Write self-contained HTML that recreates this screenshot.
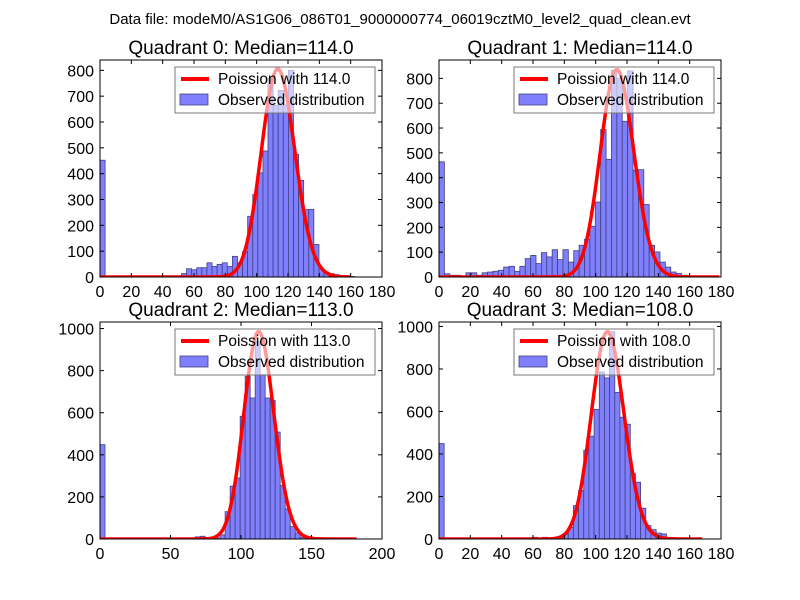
<!DOCTYPE html>
<html><head><meta charset="utf-8"><style>
body{margin:0;background:#fff;}
svg{display:block;font-family:"Liberation Sans",sans-serif;}
</style></head><body>
<svg id="fig" width="800" height="600" viewBox="0 0 800 600">
<rect width="800" height="600" fill="#fff"/>
<text x="400" y="24" font-size="15" text-anchor="middle">Data file: modeM0/AS1G06_086T01_9000000774_06019cztM0_level2_quad_clean.evt</text>
</svg>
<script>
// ---- data ----
const medians = [114.0, 114.0, 113.0, 108.0];
const binWidths = [3.25, 3.44, 3.55, 3.3];
const counts0 = [452,0,0,0,0,0,0,0,0,0,0,0,0,0,0,0,13,32,28,36,36,55,41,49,55,41,80,55,99,235,319,403,488,768,665,722,665,800,475,374,261,262,126,30,19,13,9,5,3,2];
const counts1 = [464,13,7,7,3,17,17,7,17,20,23,27,40,43,23,43,74,87,54,98,81,110,70,110,60,106,128,152,204,302,594,474,833,800,627,830,430,432,292,128,101,60,40,20,14,7,3,2,1,0];
const counts2 = [448,0,0,0,0,0,0,0,0,0,0,0,0,0,0,0,0,0,0,10,13,3,3,5,20,130,251,290,583,773,670,937,781,670,659,508,254,143,59,29,8,5,2,0,0,0,0,0,0,0];
const counts3 = [449,0,0,0,0,0,0,0,0,0,0,0,0,0,0,0,5,0,8,0,8,0,5,10,24,55,157,228,417,484,610,786,758,975,690,573,540,307,267,145,63,44,28,24,8,3,1,0,0,0];
const curvePeaks = [805, 835, 985, 975];
const curveMaxX = [160, 179, 182, 168];
const xTicks0 = [0,20,40,60,80,100,120,140,160,180];
const xTicks2 = [0,50,100,150,200];
const yTicks01 = [0,100,200,300,400,500,600,700,800];
const yTicks23 = [0,200,400,600,800,1000];
const xMaxes = [180, 180, 200, 180];
const yMaxes = [840, 874, 1031, 1021];

const allCounts = [counts0, counts1, counts2, counts3];
const boxes = [[100,60,382,277],[439,60,721,277],[100,322,382,539],[439,322,721,539]];
const NS = "http://www.w3.org/2000/svg";
const svg = document.getElementById('fig');
function mk(tag, attrs, parent){const e=document.createElementNS(NS,tag);for(const k in attrs)e.setAttribute(k,attrs[k]);(parent||svg).appendChild(e);return e;}
function logFact(n){let s=0;for(let i=2;i<=n;i++)s+=Math.log(i);return s;}
function pmf(k,l){return Math.exp(k*Math.log(l)-l-logFact(k));}

for(let p=0;p<4;p++){
  const [x0,y0,x1,y1]=boxes[p];
  const xs=v=>x0+(v/xMaxes[p])*(x1-x0);
  const ys=v=>y1-(v/yMaxes[p])*(y1-y0);
  const g=mk('g',{});
  
  
  const clipId='clip'+p;
  const cp=mk('clipPath',{id:clipId},g);
  mk('rect',{x:x0,y:y0,width:x1-x0,height:y1-y0},cp);
  const plot=mk('g',{'clip-path':'url(#'+clipId+')'},g);
  const c=allCounts[p], w=binWidths[p];
  c.forEach((v,i)=>{
    if(v<=0)return;
    const r=mk('rect',{x:xs(i*w),y:ys(v),width:xs((i+1)*w)-xs(i*w),height:ys(0)-ys(v),fill:'#8080ff',stroke:'#40407f','stroke-width':0.8},plot);
    
    
  });
  const lam=medians[p], scale=curvePeaks[p]/pmf(Math.round(lam),lam);
  let d='';
  for(let k=0;k<=curveMaxX[p];k++){d+=(k?'L':'M')+xs(k).toFixed(1)+','+ys(scale*pmf(k,lam)).toFixed(1);}
  const ln=mk('path',{d:d,fill:'none',stroke:'#ff0000','stroke-width':3.5,'stroke-linejoin':'round'},plot);
  
  
  mk('rect',{x:x0,y:y0,width:x1-x0,height:y1-y0,fill:'none',stroke:'#000','stroke-width':1},g);
  const xt = p===2?xTicks2:xTicks0;
  const yt = p<2?yTicks01:yTicks23;
  xt.forEach(t=>{
    const X=xs(t);
    mk('line',{x1:X,y1:y1,x2:X,y2:y1-4,stroke:'#000'},g);
    mk('line',{x1:X,y1:y0,x2:X,y2:y0+4,stroke:'#000'},g);
    const tx=mk('text',{x:X,y:y1+20,'font-size':16,'text-anchor':'middle'},g);
    tx.textContent=t;
    
    
  });
  yt.forEach(t=>{
    const Y=ys(t);
    mk('line',{x1:x0,y1:Y,x2:x0+4,y2:Y,stroke:'#000'},g);
    mk('line',{x1:x1,y1:Y,x2:x1-4,y2:Y,stroke:'#000'},g);
    const tx=mk('text',{x:x0-6,y:Y+6,'font-size':16,'text-anchor':'end'},g);
    tx.textContent=t;
    
    
  });
  const ti=mk('text',{x:(x0+x1)/2,y:y0-6,'font-size':19,'text-anchor':'middle'},g);
  ti.textContent='Quadrant '+p+': Median='+lam.toFixed(1);
  
  
  const lx=x0+75, ly=y0+7;
  const lg=mk('g',{},g);
  
  
  mk('rect',{x:lx,y:ly,width:200,height:46,fill:'rgba(255,255,255,0.6)',stroke:'#777','stroke-width':1},lg);
  mk('line',{x1:lx+6,y1:ly+12,x2:lx+34,y2:ly+12,stroke:'#ff0000','stroke-width':4},lg);
  const t1=mk('text',{x:lx+43,y:ly+17,'font-size':15.5},lg);
  t1.textContent='Poission with '+lam.toFixed(1);
  
  
  mk('rect',{x:lx+5,y:ly+27,width:28,height:11,fill:'#8080ff',stroke:'#40407f','stroke-width':0.8},lg);
  const t2=mk('text',{x:lx+43,y:ly+38,'font-size':15.5},lg);
  t2.textContent='Observed distribution';
  
  
}
</script>
</body></html>
